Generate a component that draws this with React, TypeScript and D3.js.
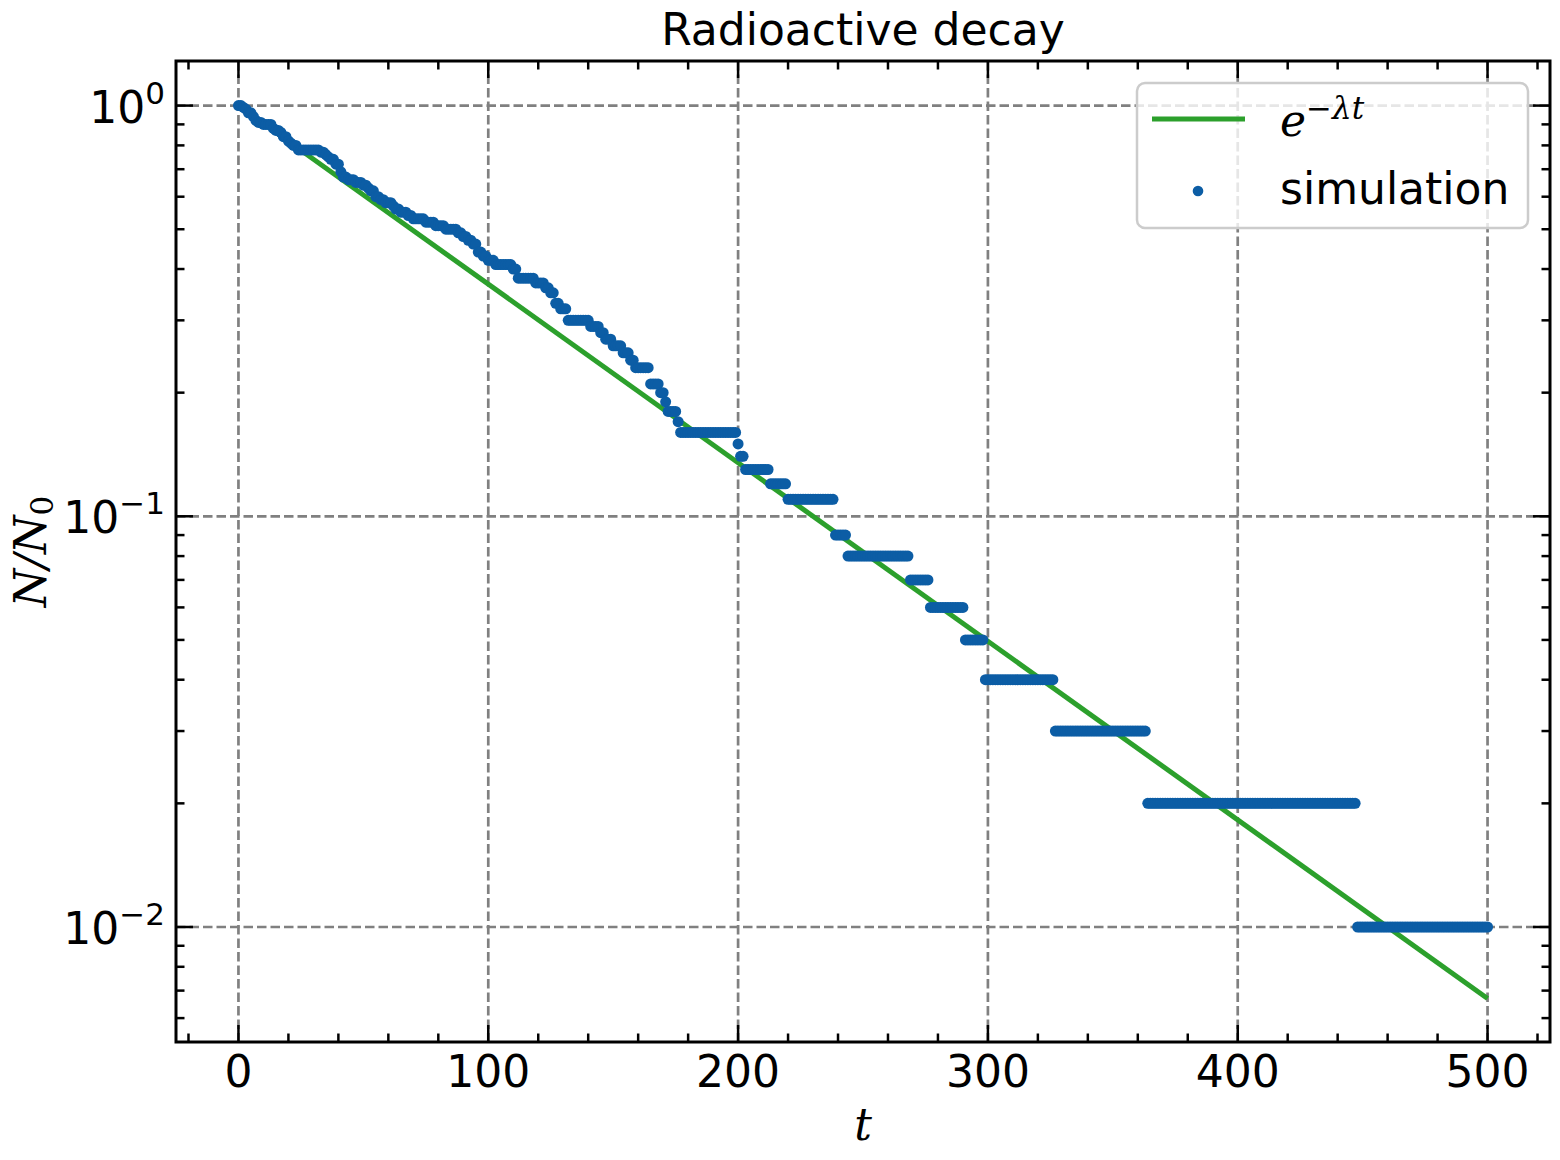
import * as d3 from "d3";

// simulation: N (out of N0 = 100) changes to stepCounts[i] at time stepTimes[i]
const N0 = 100;
const stepTimes = [
  0, 2, 3, 4, 6, 7, 8, 10, 14, 15, 17, 18, 20, 21, 22, 24, 33, 35, 36, 37,
  39, 41, 42, 44, 47, 50, 52, 53, 55, 57, 59, 62, 63, 65, 68, 70, 75, 79, 83, 88,
  90, 92, 94, 96, 98, 100, 103, 110, 112, 119, 123, 125, 127, 129, 132, 141, 145, 147, 150, 154,
  157, 159, 165, 169, 171, 172, 176, 177, 200, 201, 203, 213, 220, 239, 244, 269, 277, 291, 299, 327,
  364, 448,
];
const stepCounts = [
  100, 99, 98, 96, 94, 92, 91, 90, 88, 87, 86, 84, 82, 81, 80, 78, 77, 76, 75, 74,
  72, 69, 67, 66, 65, 64, 63, 62, 60, 59, 58, 57, 56, 55, 54, 53, 52, 51, 50, 49,
  48, 47, 46, 44, 43, 42, 41, 40, 38, 37, 36, 35, 33, 32, 30, 29, 28, 27, 26, 25,
  24, 23, 21, 20, 19, 18, 17, 16, 15, 14, 13, 12, 11, 9, 8, 7, 6, 5, 4, 3,
  2, 1,
];
const tEnd = 500;

// theoretical curve e^{-λt}, end points
const curveT = [0, 500];
const curveY = [1, 0.0067];

const xTicks = [0, 100, 200, 300, 400, 500];
const yTicks = [1, 0.1, 0.01];
const yTickExp = ["0", "\u22121", "\u22122"];

const W = 1560;
const H = 1160;
const left = 176;
const right = 1550;
const top = 61;
const bottom = 1042;

const blue = "#0C5DA5";
const green = "#2ca02c";
const font = "DejaVu Sans, sans-serif";
const serif = "DejaVu Serif, serif";

export default function App() {
  const x = d3.scaleLinear([-25, 525], [left, right]);
  const y = d3.scaleLog([Math.pow(10, -2.28004), Math.pow(10, 0.10857)], [bottom, top]);

  const bisect = d3.bisector((d: number) => d).right;
  const points = d3.range(0, tEnd + 1).map((t) => {
    const i = bisect(stepTimes, t) - 1;
    return [t, stepCounts[i] / N0] as [number, number];
  });

  const line = d3.line<number>((_, i) => x(curveT[i]), (d) => y(d));

  const xMinor = d3.range(-20, 525, 20).filter((v) => v % 100 !== 0);
  const yMinor: number[] = [];
  for (let e = -3; e <= 0; e++) {
    for (let m = 2; m <= 9; m++) {
      const v = m * Math.pow(10, e);
      if (y(v) <= bottom && y(v) >= top) yMinor.push(v);
    }
  }

  const majorLen = 17;
  const minorLen = 8.5;
  const tickW = 2.5;

  return (
    <div style={{ position: "absolute", left: 0, top: 0 }}>
      <svg width={W} height={H} style={{ display: "block", background: "white" }}>
        {/* grid */}
        <g stroke="#808080" strokeWidth={2.7} strokeDasharray="9.5,4">
          {xTicks.map((t) => (
            <line key={"gx" + t} x1={x(t)} x2={x(t)} y1={top} y2={bottom} />
          ))}
          {yTicks.map((t) => (
            <line key={"gy" + t} x1={left} x2={right} y1={y(t)} y2={y(t)} />
          ))}
        </g>

        {/* curve */}
        <path d={line(curveY) ?? ""} fill="none" stroke={green} strokeWidth={5} />

        {/* simulation */}
        <g fill={blue}>
          {points.map(([t, v]) => (
            <circle key={t} cx={x(t)} cy={y(v)} r={5.5} />
          ))}
        </g>

        {/* ticks */}
        <g stroke="black" strokeWidth={tickW}>
          {xTicks.map((t) => (
            <g key={"xt" + t}>
              <line x1={x(t)} x2={x(t)} y1={bottom} y2={bottom - majorLen} />
              <line x1={x(t)} x2={x(t)} y1={top} y2={top + majorLen} />
            </g>
          ))}
          {xMinor.map((t) => (
            <g key={"xm" + t}>
              <line x1={x(t)} x2={x(t)} y1={bottom} y2={bottom - minorLen} />
              <line x1={x(t)} x2={x(t)} y1={top} y2={top + minorLen} />
            </g>
          ))}
          {yTicks.map((t) => (
            <g key={"yt" + t}>
              <line x1={left} x2={left + majorLen} y1={y(t)} y2={y(t)} />
              <line x1={right} x2={right - majorLen} y1={y(t)} y2={y(t)} />
            </g>
          ))}
          {yMinor.map((t) => (
            <g key={"ym" + t}>
              <line x1={left} x2={left + minorLen} y1={y(t)} y2={y(t)} />
              <line x1={right} x2={right - minorLen} y1={y(t)} y2={y(t)} />
            </g>
          ))}
        </g>

        {/* frame */}
        <rect x={left} y={top} width={right - left} height={bottom - top} fill="none" stroke="black" strokeWidth={3} />

        {/* tick labels */}
        <g fontFamily={font} fontSize={44} fill="black">
          {xTicks.map((t) => (
            <text key={"xl" + t} x={x(t)} y={1087} textAnchor="middle">
              {t}
            </text>
          ))}
          {yTicks.map((t, i) => (
            <text key={"yl" + t} x={165} y={y(t) + 17} textAnchor="end">
              10
              <tspan fontSize={31} dy={-19}>
                {yTickExp[i]}
              </tspan>
            </text>
          ))}
        </g>

        {/* legend */}
        <rect x={1137} y={83} width={391} height={145} rx={8} fill="white" fillOpacity={0.8} stroke="#cccccc" strokeWidth={2.5} />
        <line x1={1152} x2={1245} y1={119} y2={119} stroke={green} strokeWidth={5} />
        <circle cx={1198} cy={191} r={5.3} fill={blue} />
        <text x={1280} y={136} fontFamily={serif} fontStyle="italic" fontSize={44}>
          e
          <tspan fontSize={31} dy={-17}>
            {"\u2212\u03bbt"}
          </tspan>
        </text>
        <text x={1280} y={204} fontFamily={font} fontSize={44}>
          simulation
        </text>

        {/* labels */}
        <text x={(left + right) / 2} y={45} textAnchor="middle" fontFamily={font} fontSize={44}>
          Radioactive decay
        </text>
        <text x={(left + right) / 2} y={1140} textAnchor="middle" fontFamily={serif} fontStyle="italic" fontSize={44}>
          t
        </text>
        <text transform={`translate(46,${(top + bottom) / 2}) rotate(-90)`} textAnchor="middle" fontFamily={serif} fontStyle="italic" fontSize={44}>
          N/N
          <tspan fontSize={31} fontStyle="normal" dy={7}>
            0
          </tspan>
        </text>
      </svg>
    </div>
  );
}
